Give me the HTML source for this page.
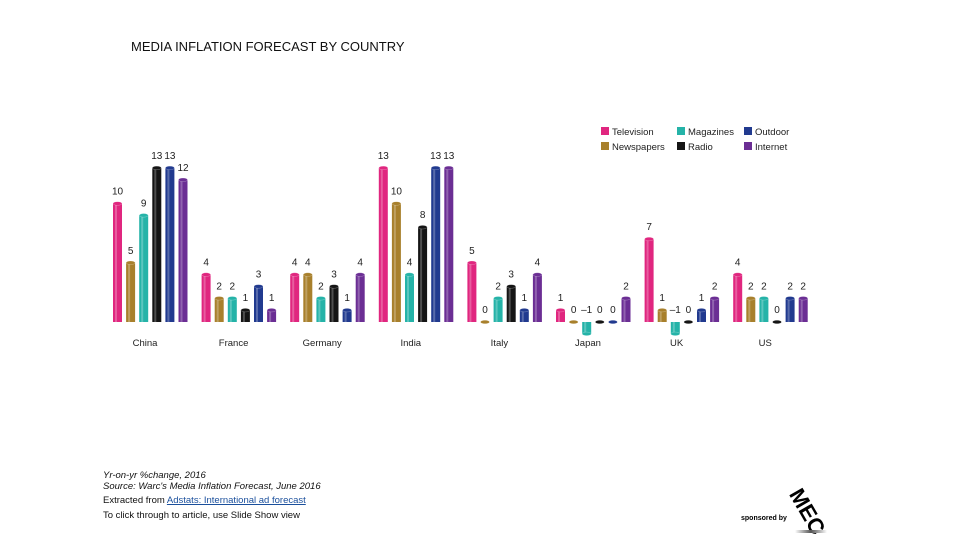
<!DOCTYPE html>
<html><head><meta charset="utf-8"><style>
body{margin:0;width:960px;height:540px;background:#fff;overflow:hidden;position:relative;font-family:"Liberation Sans",sans-serif}
.t{position:absolute;left:131px;top:39px;font-size:13px;color:#111}
.f{position:absolute;left:103px;font-size:9.5px;color:#111;white-space:nowrap}
</style></head><body>
<div class="t">MEDIA INFLATION FORECAST BY COUNTRY</div>
<svg id="c" width="960" height="540" style="position:absolute;left:0;top:0"></svg>
<div class="f" style="top:470px;font-style:italic">Yr-on-yr %change, 2016</div>
<div class="f" style="top:481px;font-style:italic">Source: Warc's Media Inflation Forecast, June 2016</div>
<div class="f" style="top:495px">Extracted from <span style="color:#1a4f9c;text-decoration:underline">Adstats: International ad forecast</span></div>
<div class="f" style="top:510px">To click through to article, use Slide Show view</div>
<div style="position:absolute;left:741px;top:515px;font-size:7px;font-weight:bold">sponsored by</div>
<div style="position:absolute;left:806px;top:484px;font-size:22px;font-weight:900;transform:rotate(60deg);transform-origin:left top">MEC</div>
<div style="position:absolute;left:795px;top:530px;width:32px;height:3px;background:linear-gradient(90deg,#fff,#555,#fff)"></div>
<script>
const countries=["China","France","Germany","India","Italy","Japan","UK","US"];
const series=["Television","Newspapers","Magazines","Radio","Outdoor","Internet"];
const television=[10,4,4,13,5,1,7,4];
const newspapers=[5,2,4,10,0,0,1,2];
const magazines=[9,2,2,4,2,-1,-1,2];
const radio=[13,1,3,8,3,0,0,0];
const outdoor=[13,3,1,13,1,0,1,2];
const internet=[12,1,4,13,4,2,2,2];
const values=[television,newspapers,magazines,radio,outdoor,internet];
const colors=["#e0267f","#a8802c","#25b3a8","#151515","#213a8f","#6b2e94"];
const NS="http://www.w3.org/2000/svg";
const svg=document.getElementById("c");
const base=322,unit=11.85;
const y=v=>base-v*unit;
const gx=i=>113+i*88.6;
const bx=(i,s)=>gx(i)+s*13.1;
function mk(t,a){const e=document.createElementNS(NS,t);for(const k in a)e.setAttribute(k,a[k]);svg.appendChild(e);return e;}
countries.forEach((c,i)=>{
  values.forEach((arr,s)=>{
    const v=arr[i],x=bx(i,s),w=9,top=Math.min(y(v),base),h=Math.abs(y(v)-base);
    if(h>0){const r=mk("rect",{x:x,y:top,width:w,height:h,fill:colors[s]});
    
    
    const hl=mk("rect",{x:x+2,y:top,width:2,height:h,fill:"#fff",opacity:0.25});
    
    }
    const cap=mk("ellipse",{cx:x+w/2,cy:y(v),rx:w/2,ry:1.8,fill:colors[s],stroke:"#fff","stroke-opacity":0.4,"stroke-width":0.5});
    
    
    const lt=mk("text",{x:x+w/2,y:(v<0?base:y(v))-9,"text-anchor":"middle","font-size":10,fill:"#222","font-family":"Liberation Sans, sans-serif"});
    lt.textContent=v<0?"\u2013"+Math.abs(v):String(v);
    
    
  });
  const t=mk("text",{x:gx(i)+32,y:346,"text-anchor":"middle","font-size":9.5,fill:"#222","font-family":"Liberation Sans, sans-serif"});
  t.textContent=c;
  
  
});
const legendCols=[601,677,744];
series.forEach((s,k)=>{
  const col=Math.floor(k/2),row=k%2;
  const lx=legendCols[col],ly=127+row*15;
  const r=mk("rect",{x:lx,y:ly,width:8,height:8,fill:colors[k]});
  
  
  const t=mk("text",{x:lx+11,y:ly+8,"font-size":9.5,fill:"#222","font-family":"Liberation Sans, sans-serif"});
  t.textContent=s;
  
  
});
</script>
</body></html>
